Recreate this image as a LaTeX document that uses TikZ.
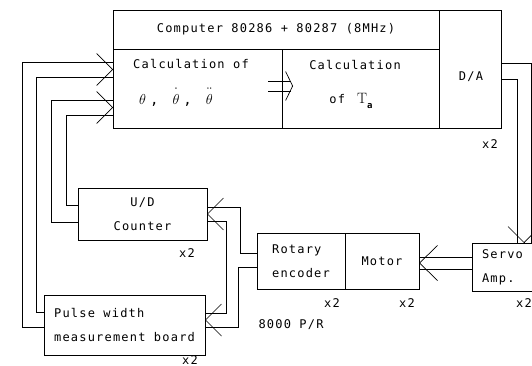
\documentclass[tikz,border=0pt]{standalone}
\usepackage{fontspec}
\usetikzlibrary{arrows.meta,calc}
\newfontfamily\dmfont[LetterSpace=10]{DejaVu Sans Mono}
\begin{document}
\begin{tikzpicture}[x=1pt,y=-1pt,line width=0.7pt,line join=miter,
  txt/.style={font=\dmfont\fontsize{12}{24}\selectfont,inner sep=0pt},
  blk/.style={draw,rectangle,inner sep=0pt,outer sep=0pt,font=\dmfont\fontsize{12}{24}\selectfont},
  chev/.style={-{Straight Barb[length=16pt,width=32pt]}},
  chevm/.style={-{Straight Barb[length=18pt,width=35pt]}},
  chevn/.style={-{Straight Barb[length=7pt,width=29pt]}}]
\clip (0,0) rectangle (532,366);
\useasboundingbox (0,0) rectangle (532,366);
% blocks
\node[blk,minimum width=326pt,minimum height=39pt] (header) at (276,29.5) {Computer 80286 + 80287 (8MHz)};
\node[blk,minimum width=169pt,minimum height=79pt] (calcA) at (197.5,88.5) {};
\node[blk,minimum width=157pt,minimum height=79pt] (calcB) at (360.5,88.5) {};
\node[blk,minimum width=62pt,minimum height=118pt] (da) at (470,69) {};
\node[blk,minimum width=129pt,minimum height=52pt,align=center] (counter) at (142.5,214) {U/D\\Counter};
\node[blk,minimum width=161pt,minimum height=60pt,align=left] (pulse) at (124.5,325) {Pulse width\\measurement board};
\node[blk,minimum width=88pt,minimum height=56pt,align=left] (rotary) at (301,261) {Rotary\\encoder};
\node[blk,minimum width=74pt,minimum height=56pt] (motor) at (382,261) {Motor};
\node[blk,minimum height=48pt,text width=53pt,inner xsep=10pt,align=left] (servo) at (508.5,267) {Servo\\Amp.};
% texts
\node[txt] (calcAt) at (191,64) {Calculation of};
\node[txt,anchor=base,font=\dmfont\fontsize{14}{14}\selectfont] (theta) at (176,105)
  {$\theta$\hspace{4pt},\hspace{14pt}$\dot{\rule{0pt}{14pt}\theta}$\hspace{4pt},\hspace{14pt}$\ddot{\rule{0pt}{14pt}\theta}$};
\node[txt] (calcBt) at (355,65) {Calculation};
\node[txt,anchor=base west] (calcBt2) at (329,104) {of\hspace{12pt}{\fontsize{15}{15}\selectfont$\mathrm{T}$}\raisebox{-5pt}{\fontsize{9}{9}\selectfont\bfseries a}};
\node[txt] (dat) at (471,77) {D/A};
\node[txt] (x2da) at (490,144) {x2};
\node[txt] (x2c) at (187,253) {x2};
\node[txt] (x2p) at (190,360) {x2};
\node[txt] (x2r) at (332,303) {x2};
\node[txt] (x2m) at (407,303) {x2};
\node[txt] (x2s) at (524,303) {x2};
\node[txt] (ppr) at (291,325) {8000 P/R};
% feedback to computer (pairs of lines)
\draw ($(pulse.west)+(0,2)$) -| (22,62) -- ($(calcA.west)+(0,-26.5)$);
\draw ($(pulse.west)+(0,-13)$) -| (36,77) -- ($(calcA.west)+(0,-11.5)$);
\draw ($(counter.west)+(0,8)$) -| (51,100) -- ($(calcA.west)+(0,11.5)$);
\draw ($(counter.west)+(0,-9)$) -| (66,115) -- ($(calcA.west)+(0,26.5)$);
% D/A to servo
\draw ($(da.east)+(0,-6)$) -| ($(servo.north west)+(59.3,0)$);
\draw ($(da.east)+(0,10)$) -| ($(servo.north west)+(45,0)$);
% servo to motor
\draw ($(servo.west)+(0,-10)$) -- ($(motor.east)+(0,-4)$);
\draw ($(servo.west)+(0,2)$) -- ($(motor.east)+(0,8)$);
% inside computer
\draw ($(calcB.west)+(-14,-7.5)$) -- ($(calcB.west)+(9,-7.5)$);
\draw ($(calcB.west)+(-14,2.5)$) -- ($(calcB.west)+(9,2.5)$);
% encoder to counters
\draw ($(rotary.west)+(0,-8)$) -| (240,207) -- ($(counter.east)+(0,-7)$);
\draw ($(counter.east)+(0,7)$) -| (226,313) -- ($(pulse.east)+(0,-12)$);
\draw ($(rotary.west)+(0,6)$) -| (238,327) -- ($(pulse.east)+(0,2)$);
% arrow heads
\draw[chev] ($(calcA.west)+(-0.1,-19)$) -- ($(calcA.west)+(0,-19)$);
\draw[chev] ($(calcA.west)+(-0.1,19)$) -- ($(calcA.west)+(0,19)$);
\draw[chev] ($(counter.east)+(0.1,0)$) -- (counter.east);
\draw[chev] ($(pulse.east)+(0.1,-5)$) -- ($(pulse.east)+(0,-5)$);
\draw[chev] ($(servo.north west)+(52,-0.1)$) -- ($(servo.north west)+(52,0)$);
\draw[chevm] ($(motor.east)+(0.1,2)$) -- ($(motor.east)+(0,2)$);
\draw[chevn] ($(calcB.west)+(10.9,-2.5)$) -- ($(calcB.west)+(11,-2.5)$);
\end{tikzpicture}
\end{document}
